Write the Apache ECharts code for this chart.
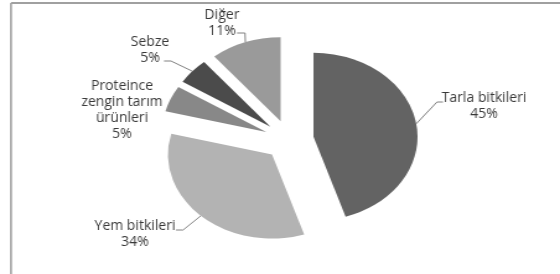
<!DOCTYPE html>
<html lang="tr">
<head>
    <meta charset="UTF-8">
    <title>Pie</title>
    <script src="https://cdn.jsdelivr.net/npm/echarts@6/dist/echarts.min.js"></script>
    <style>
        body { margin: 0; background: #fff; overflow: hidden; }
        /* orijinal grafik yatayda gerilmiş, aynısını yapıyoruz */
        #main { width: 452px; height: 274px; transform: scaleX(1.2389); transform-origin: 0 0; }
    </style>
</head>
<body>
<div id="main"></div>
<script type="text/javascript">
    // veriler
    var names = ['Tarla bitkileri', 'Yem bitkileri', 'Proteince\nzengin tarım\nürünleri', 'Sebze', 'Diğer'];
    var values = [45, 34, 5, 5, 11];
    var colors = ['#636363', '#b3b3b3', '#888888', '#4b4b4b', '#9a9a9a'];

    var SX = 560 / 452;   // yatay germe
    var OFFSET = 20;

    // etiket merkezleri ve çizgi kırılma / bitiş noktaları (ekran pikseli)
    var labelPos = [[484, 106], [135, 234], [122, 110], [150, 50], [222, 23]];
    var lineBend = [[437, 102, 443, 102], [183, 230, 176, 230], null, [171, 61, 164, 61], [245, 33, 237, 33]];

    var myChart = echarts.init(document.getElementById('main'));

    // çerçeve + etiket metinleri
    var graphics = [
        {type: 'line', shape: {x1: 11 / SX, y1: 3, x2: 452, y2: 3}, style: {stroke: '#a0a0a0', lineWidth: 2}},
        {type: 'line', shape: {x1: 11 / SX, y1: 3, x2: 11 / SX, y2: 274}, style: {stroke: '#a0a0a0', lineWidth: 1.6}}
    ];
    names.forEach(function (n, i) {
        graphics.push({
            type: 'text',
            x: labelPos[i][0] / SX,
            y: labelPos[i][1],
            scaleX: 1 / SX,
            z: 10,
            style: {
                text: n + '\n' + values[i] + '%',
                fill: '#383838',
                font: '14px "Open Sans"',
                lineHeight: 16,
                align: 'center',
                verticalAlign: 'middle'
            }
        });
    });

    var option = {
        animation: false,
        graphic: graphics,
        series: [{
            type: 'pie',
            center: [289 / SX, 140],
            radius: 84,
            startAngle: 90,
            clockwise: true,
            selectedMode: 'multiple',
            selectedOffset: OFFSET,
            emphasis: {disabled: true},
            label: {show: false},
            labelLine: {show: false},
            data: names.map(function (n, i) {
                return {name: n, value: values[i], selected: true, itemStyle: {color: colors[i]}};
            })
        }]
    };
    myChart.setOption(option);

    // dilim yay ortasından etikete giden çizgiler (pie layout'undan)
    var data = myChart.getModel().getSeriesByIndex(0).getData();
    names.forEach(function (n, i) {
        var b = lineBend[i];
        if (!b) return;
        var l = data.getItemLayout(i);
        var mid = (l.startAngle + l.endAngle) / 2;
        var sx = l.cx + Math.cos(mid) * (l.r + OFFSET);
        var sy = l.cy + Math.sin(mid) * (l.r + OFFSET);
        graphics.push({
            type: 'polyline',
            shape: {points: [[sx, sy], [b[0] / SX, b[1]], [b[2] / SX, b[3]]]},
            style: {stroke: '#808080', lineWidth: 1, fill: null}
        });
    });
    myChart.setOption({graphic: graphics});
</script>
</body>
</html>
